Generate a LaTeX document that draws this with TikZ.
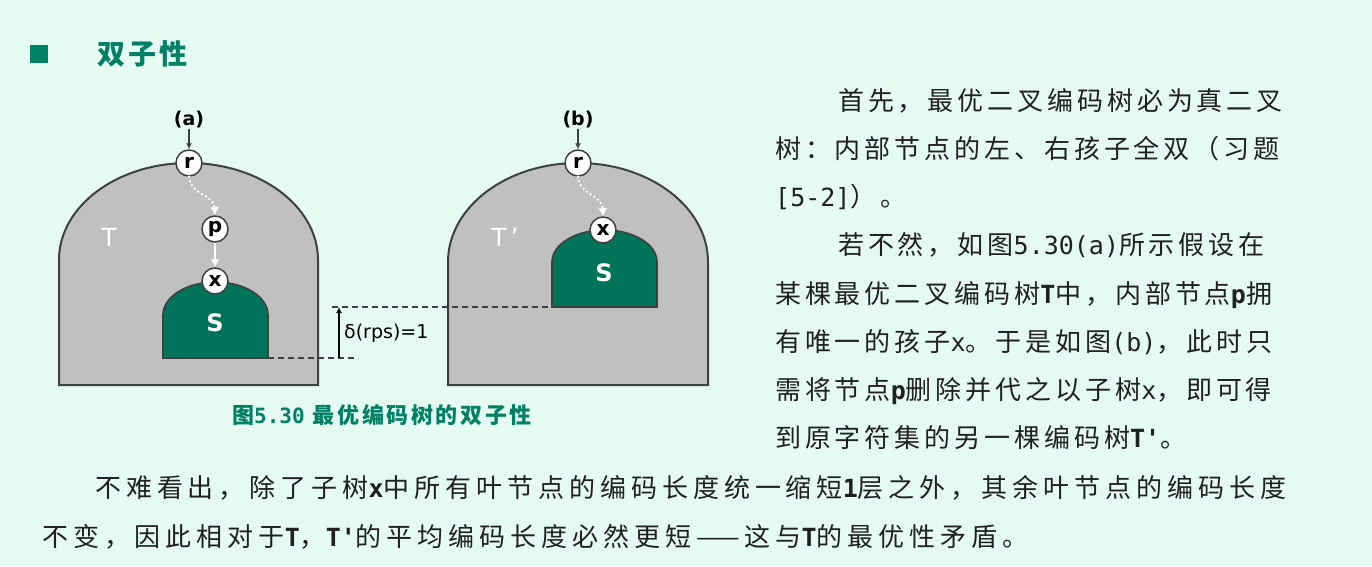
\documentclass[tikz,border=0pt]{standalone}
\usepackage{fontspec}
\setmainfont{DejaVu Sans}
\newfontfamily\cjk[LetterSpace=15]{Noto Sans CJK SC}
\newfontfamily\cjkwide[LetterSpace=19]{Noto Sans CJK SC}
\newfontfamily\cjkcap[LetterSpace=12]{Noto Sans CJK SC}
\newfontfamily\mono{DejaVu Sans Mono}
\usetikzlibrary{arrows.meta}

\definecolor{mintbg}{RGB}{229,250,240}
\definecolor{bookteal}{RGB}{0,128,100}
\definecolor{treegray}{RGB}{192,192,192}
\definecolor{treeline}{RGB}{64,64,64}
\definecolor{subgreen}{RGB}{0,116,90}
\definecolor{ink}{RGB}{32,32,32}

\newcommand{\mt}[1]{{\mono\fontsize{25}{25}\selectfont #1}}
\newcommand{\mtb}[1]{{\mono\bfseries\fontsize{25}{25}\selectfont #1}}

\begin{document}
\begin{tikzpicture}[
    x=1pt, y=-1pt,
    >=Latex,
    treebody/.style={draw=treeline, line width=2pt, fill=treegray},
    subbody/.style={draw=treeline, line width=1.6pt, fill=subgreen},
    treenode/.style={draw=treeline, circle, fill=white, line width=1.5pt,
        minimum size=26pt, inner sep=0pt, font=\fontsize{20}{20}\selectfont\bfseries},
    caselabel/.style={inner sep=0pt, font=\fontsize{19}{19}\selectfont\bfseries},
    treename/.style={text=white, inner sep=0pt, font=\fontsize{25}{25}\selectfont},
    subname/.style={text=white, inner sep=0pt, font=\fontsize{24}{24}\selectfont\bfseries},
    entryarrow/.style={draw=treeline, line width=1.4pt, -{Latex[length=6pt,width=6pt]}},
    pathdots/.style={draw=white, line width=2.6pt, dash pattern=on 0pt off 4.5pt,
        line cap=round, -{Latex[length=8pt,width=9pt]}},
    childarrow/.style={draw=white, line width=2pt, -{Latex[length=8pt,width=9pt]}},
    guide/.style={draw=treeline, line width=1.2pt, dash pattern=on 6pt off 4pt},
    bodyline/.style={anchor=base west, inner sep=0pt, text=ink,
        font=\cjk\fontsize{26}{26}\selectfont},
    headline/.style={anchor=base west, inner sep=0pt, text=bookteal}
]
% background and page size
\fill[mintbg] (0,0) rectangle (1372,566);

% Heading
\node[fill=bookteal, minimum size=18pt, inner sep=0pt] (bullet) at (39,54) {};
\node[headline, font=\cjkcap\bfseries\fontsize{28}{28}\selectfont] (heading) at (97,64) {双子性};

% Tree (a)
\draw[treebody] (59,385) -- (59,260)
    arc[start angle=180, end angle=360, x radius=129.5, y radius=97] -- (318,385) -- cycle;
\draw[subbody] (163,358) -- (163,315)
    arc[start angle=180, end angle=360, x radius=52.5, y radius=33] -- (268,358) -- cycle;
\node[treenode] (rootA) at (189,163) {r};
\node[caselabel] (caseA) at (189,120) {(a)};
\node[treenode] (parentA) at (215,229) {p};
\node[treenode] (childA) at (215,281) {x};
\node[treename] (nameA) at (109,237) {T};
\node[subname] (subA) at (215,323) {S};

% Tree (b)
\draw[treebody] (448,385) -- (448,262)
    arc[start angle=180, end angle=360, x radius=130, y radius=99] -- (708,385) -- cycle;
\draw[subbody] (552,307) -- (552,262)
    arc[start angle=180, end angle=360, x radius=52.5, y radius=32] -- (657,307) -- cycle;
\node[treenode] (rootB) at (578,163) {r};
\node[caselabel] (caseB) at (578,120) {(b)};
\node[treenode] (childB) at (603,230) {x};
\node[treename] (nameB) at (505,237) {T\,'};
\node[subname] (subB) at (604,273) {S};

% Depth marks
\coordinate (baseA) at (268,358);
\coordinate (baseEnd) at (358,358);
\coordinate (baseB) at (552,307);
\coordinate (topStart) at (332,307);
\coordinate (lowTick) at (339,358);
\coordinate (highTick) at (339,307);
\draw[guide] (baseA) -- (baseEnd);
\draw[guide] (topStart) -- (baseB);
\draw[entryarrow, draw=black] (lowTick) -- (highTick);
\node[anchor=west, inner sep=0pt, font=\fontsize{19}{19}\selectfont] (depth) at (344,333) {δ(rps)=1};

% Paths
\draw[entryarrow] (caseA) -- (rootA);
\draw[entryarrow] (caseB) -- (rootB);
\draw[pathdots] (rootA.south) .. controls (191,196) and (214,194) .. (parentA.north);
\draw[childarrow] (parentA) -- (childA);
\draw[pathdots] (rootB.south) .. controls (580,196) and (602,194) .. (childB.north);

% Caption
\node[headline, font=\cjkcap\bfseries\fontsize{22}{22}\selectfont] (caption) at (232,423)
    {图{\mono\bfseries\fontsize{21}{21}\selectfont 5.30}\hspace{8pt}最优编码树的双子性};

% Text beside the figure
\node[bodyline] (line1) at (838,110) {首先，最优二叉编码树必为真二叉};
\node[bodyline] (line2) at (775,158) {树：内部节点的左、右孩子全双（习题};
\node[bodyline] (line3) at (775,206) {\mt{[5-2]}）。};
\node[bodyline] (line4) at (838,254) {若不然，如图\mt{5.30(a)}所示假设在};
\node[bodyline] (line5) at (775,303) {某棵最优二叉编码树\mtb{T}中，内部节点\mtb{p}拥};
\node[bodyline] (line6) at (775,351) {有唯一的孩子\mt{x}。于是如图\mt{(b)}，此时只};
\node[bodyline] (line7) at (775,399) {需将节点\mtb{p}删除并代之以子树\mt{x}，即可得};
\node[bodyline] (line8) at (775,447) {到原字符集的另一棵编码树\mtb{T'}。};

% Text below
\node[bodyline, font=\cjkwide\fontsize{26}{26}\selectfont] (para1) at (95,497)
    {不难看出，除了子树\mtb{x}中所有叶节点的编码长度统一缩短\mtb{1}层之外，其余叶节点的编码长度};
\node[bodyline, font=\cjkwide\fontsize{26}{26}\selectfont] (para2) at (42,546)
    {不变，因此相对于\mtb{T}，\mtb{T'}的平均编码长度必然更短——这与\mtb{T}的最优性矛盾。};

\end{tikzpicture}
\end{document}
